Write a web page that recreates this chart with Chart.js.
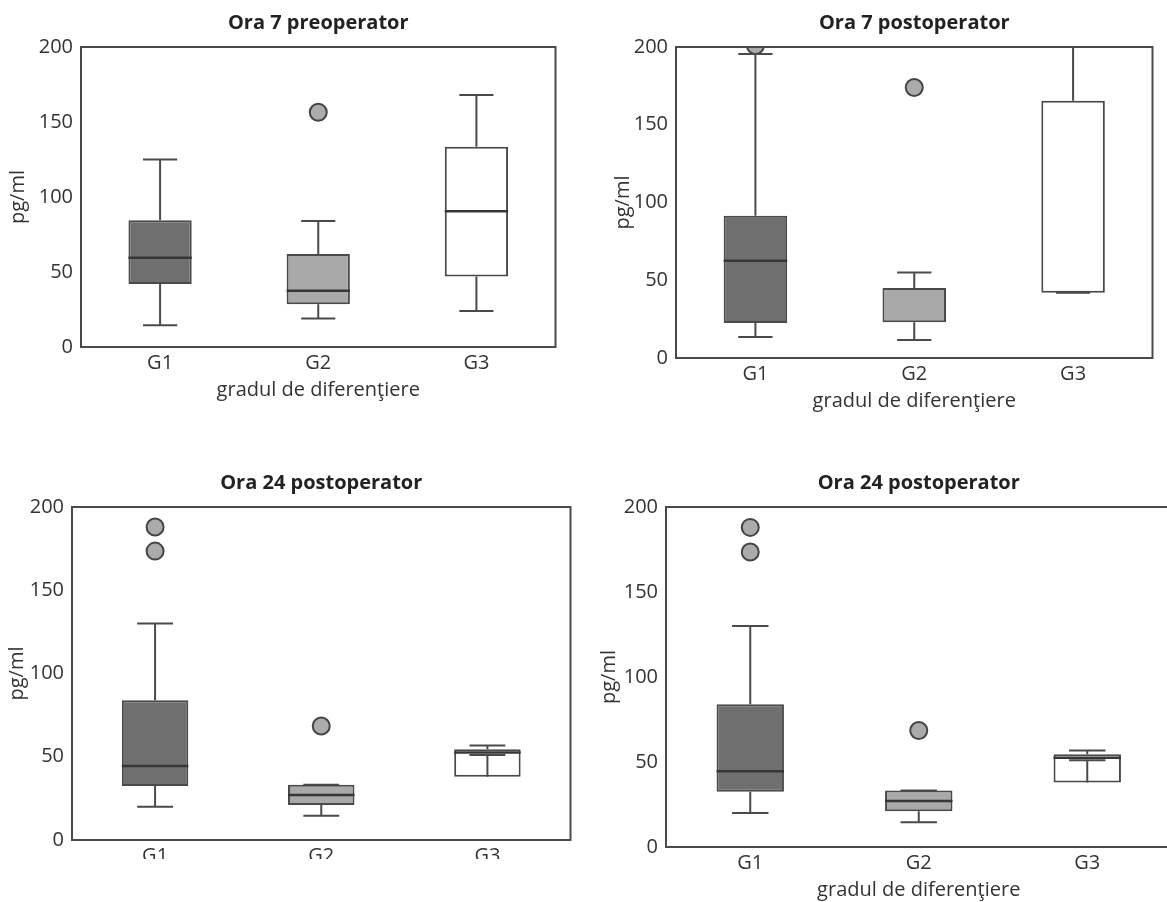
<!DOCTYPE html>
<html>
<head>
<meta charset="utf-8">
<script src="https://cdn.jsdelivr.net/npm/chart.js@4/dist/chart.umd.min.js"></script>
<style>
    html, body { margin: 0; padding: 0; background: #fff; overflow: hidden; width: 1167px; height: 902px; }
    .panel { position: absolute; }
</style>
</head>
<body>
<div id="panels"></div>
<script>
/*jshint esversion: 9 */

const categories = ['G1', 'G2', 'G3'];
const yTicks = [0, 50, 100, 150, 200];
const xTitle = 'gradul de diferenţiere';
const yTitle = 'pg/ml';

// Ora 7 preoperator
const pre7Min = [14.5, 19, 24];
const pre7Q1 = [42, 28.5, 47];
const pre7Median = [59.5, 37.5, 90.5];
const pre7Q3 = [84.5, 62, 133.5];
const pre7Max = [125, 84, 168];
const pre7Outliers = [[], [156.5], []];

// Ora 7 postoperator (no median line visible for G2, G3)
const post7Min = [13.5, 11.5, 42];
const post7Q1 = [22.5, 23, 42];
const post7Median = [62.5, null, null];
const post7Q3 = [91.5, 45, 165.5];
const post7Max = [195.5, 55, 240];
const post7Outliers = [[201], [174], []];

// Ora 24 postoperator
const post24Min = [20, 14.5, 51];
const post24Q1 = [32.5, 21, 38];
const post24Median = [44.5, 27, 52.5];
const post24Q3 = [84, 33.2, 54.5];
const post24Max = [130, 33.2, 56.8];
const post24Outliers = [[188, 173.5], [68.5], []];

const boxColors = ['#6f6f6f', '#a9a9a9', '#ffffff'];
const lineColor = '#4a4a4a';
const textColor = '#333333';
const fontFamily = '"Open Sans", "DejaVu Sans", sans-serif';

const Y_W = 75;
const PAD_TOP = 40;

const panels = [
    {
        title: 'Ora 7 preoperator', plot: {left: 81, top: 47, right: 563, bottom: 347},
        xHeight: 60, yTitleGap: 63, showXTitle: true,
        min: pre7Min, q1: pre7Q1, median: pre7Median, q3: pre7Q3, max: pre7Max, outliers: pre7Outliers,
    },
    {
        title: 'Ora 7 postoperator', plot: {left: 676, top: 47, right: 1160, bottom: 358},
        xHeight: 60, yTitleGap: 53, showXTitle: true,
        min: post7Min, q1: post7Q1, median: post7Median, q3: post7Q3, max: post7Max, outliers: post7Outliers,
    },
    {
        title: 'Ora 24 postoperator', plot: {left: 72, top: 507, right: 578, bottom: 841},
        xHeight: 19, yTitleGap: 55, showXTitle: false,
        min: post24Min, q1: post24Q1, median: post24Median, q3: post24Q3, max: post24Max, outliers: post24Outliers,
    },
    {
        title: 'Ora 24 postoperator', plot: {left: 666, top: 507, right: 1179, bottom: 847},
        xHeight: 60, yTitleGap: 57, showXTitle: true,
        min: post24Min, q1: post24Q1, median: post24Median, q3: post24Q3, max: post24Max, outliers: post24Outliers,
    },
];


const boxPlugin = {
    id: 'box_parts',
    afterDatasetsDraw: chart => {
        const p = chart.options.plugins.box_parts;
        const ctx = chart.ctx;
        const x = chart.scales.x;
        const y = chart.scales.y;
        const area = chart.chartArea;
        const bars = chart.getDatasetMeta(0).data;

        ctx.save();
        ctx.beginPath();
        ctx.rect(area.left, area.top, area.right - area.left, area.bottom - area.top);
        ctx.clip();

        for (let i = 0, max = categories.length; i < max; i++) {
            const cx = x.getPixelForValue(i);
            const half = bars[i].width / 2;
            const cap = bars[i].width * 0.27;
            const yMin = y.getPixelForValue(p.min[i]);
            const yQ1 = y.getPixelForValue(p.q1[i]);
            const yQ3 = y.getPixelForValue(p.q3[i]);
            const yMax = y.getPixelForValue(p.max[i]);

            // whiskers and caps
            ctx.strokeStyle = lineColor;
            ctx.lineWidth = 2;
            ctx.beginPath();
            ctx.moveTo(cx, yQ3);
            ctx.lineTo(cx, yMax);
            ctx.moveTo(cx - cap, yMax);
            ctx.lineTo(cx + cap, yMax);
            ctx.moveTo(cx, yQ1);
            ctx.lineTo(cx, yMin);
            ctx.moveTo(cx - cap, yMin);
            ctx.lineTo(cx + cap, yMin);
            ctx.stroke();

            // median
            if (p.median[i] !== null) {
                const yMed = y.getPixelForValue(p.median[i]);
                ctx.strokeStyle = '#363636';
                ctx.lineWidth = 2.5;
                ctx.beginPath();
                ctx.moveTo(cx - half, yMed);
                ctx.lineTo(cx + half, yMed);
                ctx.stroke();
            }
        }
        ctx.restore();
    },
    afterDraw: chart => {
        const p = chart.options.plugins.box_parts;
        const ctx = chart.ctx;
        const area = chart.chartArea;

        ctx.save();
        ctx.strokeStyle = lineColor;
        ctx.lineWidth = 2;
        ctx.strokeRect(area.left, area.top, area.right - area.left, area.bottom - area.top);

        const midX = (area.left + area.right) / 2;
        ctx.fillStyle = '#222';
        ctx.textAlign = 'center';
        ctx.textBaseline = 'middle';
        ctx.font = 'bold 20px ' + fontFamily;
        ctx.fillText(p.title, midX, area.top - 24);

        ctx.fillStyle = textColor;
        ctx.font = '20px ' + fontFamily;
        if (p.showXTitle) {
            ctx.fillText(xTitle, midX, area.bottom + 43);
        }

        ctx.translate(area.left - p.yTitleGap, (area.top + area.bottom) / 2);
        ctx.rotate(-Math.PI / 2);
        ctx.fillText(yTitle, 0, 0);
        ctx.restore();
    },
};


const render = {
    all: () => {
        const holder = document.getElementById('panels');
        panels.forEach(panel => render.panel(holder, panel));
    },

    panel: (holder, panel) => {
        const plot = panel.plot;
        const width = Y_W + (plot.right - plot.left) + 3;
        const height = PAD_TOP + (plot.bottom - plot.top) + panel.xHeight;

        const div = document.createElement('div');
        div.className = 'panel';
        div.style.left = (plot.left - Y_W) + 'px';
        div.style.top = (plot.top - PAD_TOP) + 'px';
        div.style.width = width + 'px';
        div.style.height = height + 'px';
        const canvas = document.createElement('canvas');
        canvas.width = width;
        canvas.height = height;
        div.appendChild(canvas);
        holder.appendChild(div);

        const outlierPoints = [];
        panel.outliers.forEach((list, i) => list.forEach(v => outlierPoints.push({x: categories[i], y: v})));

        const data = {
            labels: categories,
            datasets: [
                {
                    type: 'bar',
                    data: categories.map((c, i) => [panel.q1[i], panel.q3[i]]),
                    backgroundColor: boxColors,
                    borderColor: lineColor,
                    borderWidth: 2,
                    borderSkipped: false,
                    barPercentage: 0.4,
                    categoryPercentage: 1,
                    order: 2,
                },
                {
                    type: 'line',
                    data: outlierPoints,
                    showLine: false,
                    pointRadius: 8.5,
                    pointBackgroundColor: '#ababab',
                    pointBorderColor: '#444',
                    pointBorderWidth: 2,
                    clip: 0,
                    order: 1,
                },
            ],
        };

        const config = {
            type: 'bar',
            data: data,
            options: {
                responsive: false,
                animation: false,
                layout: {padding: {top: PAD_TOP, left: 0, right: 3, bottom: 0}},
                plugins: {
                    legend: {display: false},
                    tooltip: {enabled: false},
                    box_parts: {
                        title: panel.title,
                        showXTitle: panel.showXTitle,
                        yTitleGap: panel.yTitleGap,
                        min: panel.min,
                        q1: panel.q1,
                        median: panel.median,
                        q3: panel.q3,
                        max: panel.max,
                    },
                },
                scales: {
                    x: {
                        offset: true,
                        grid: {display: false, drawTicks: false},
                        border: {display: false},
                        ticks: {color: textColor, font: {family: fontFamily, size: 20}, padding: 4},
                        afterFit: scale => { scale.height = panel.xHeight; },
                    },
                    y: {
                        min: 0,
                        max: 200,
                        grid: {display: false, drawTicks: false},
                        border: {display: false},
                        afterBuildTicks: scale => { scale.ticks = yTicks.map(v => ({value: v})); },
                        ticks: {color: textColor, font: {family: fontFamily, size: 20}, padding: 8},
                        afterFit: scale => { scale.width = Y_W; },
                    },
                },
            },
            plugins: [boxPlugin],
        };

        new Chart(canvas, config);
    },
};

render.all();
</script>
</body>
</html>
